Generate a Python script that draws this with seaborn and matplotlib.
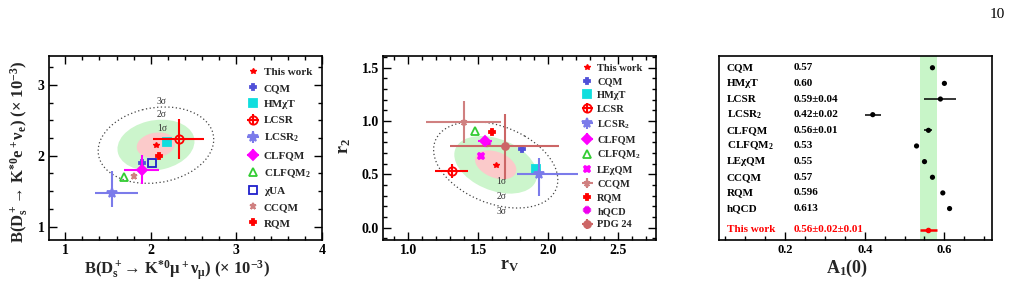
"""
Comparison of D_s+ -> K*0 l+ nu results with theory: branching fractions,
form-factor ratios and A1(0).
"""

import numpy as np
import matplotlib
matplotlib.use("Agg")
import matplotlib.pyplot as plt
from matplotlib.patches import Ellipse
from matplotlib.ticker import MultipleLocator, FormatStrFormatter
import seaborn as sns

sns.set_theme(style="ticks")
plt.rcParams['font.family'] = ['Liberation Serif', 'DejaVu Serif']
plt.rcParams['font.weight'] = 'bold'
plt.rcParams['axes.labelweight'] = 'bold'
plt.rcParams['mathtext.fontset'] = 'custom'
plt.rcParams['mathtext.rm'] = 'Liberation Serif:bold'
plt.rcParams['mathtext.it'] = 'Liberation Serif:bold'
plt.rcParams['mathtext.bf'] = 'Liberation Serif:bold'

# ============================================================================
# DATA
# ============================================================================
# panel 1: branching fractions (x 10^-3)
bf_this = (2.06, 2.15)
bf_sig = (0.225, 0.18, 0.15)          # sigma_mu, sigma_e, correlation
bf_models = ["CQM", "HMχT", "LCSR", "LCSR$_2$", "CLFQM", "CLFQM$_2$", "χUA", "CCQM", "RQM"]
bf_mu = [1.90, 2.19, 2.33, 1.55, 1.90, 1.69, 2.01, 1.80, 2.10]
bf_e = [1.90, 2.20, 2.24, 1.48, 1.80, 1.70, 1.90, 1.71, 2.00]
bf_mu_lo = [0, 0, 0.31, 0.20, 0.21, 0, 0, 0, 0]
bf_mu_hi = [0, 0, 0.29, 0.30, 0.20, 0, 0, 0, 0]
bf_e_lo = [0, 0, 0.29, 0.20, 0.20, 0, 0, 0, 0]
bf_e_hi = [0, 0, 0.28, 0.30, 0.21, 0, 0, 0, 0]

# panel 2: form-factor ratios
rr_this = (1.625, 0.59)
rr_sig = (0.148, 0.135, -0.35)
rr_models = ["CQM", "HMχT", "LCSR", "LCSR$_2$", "CLFQM", "CLFQM$_2$", "LEχQM",
             "CCQM", "RQM", "hQCD", "PDG 24"]
rv = [1.81, 1.91, 1.31, 1.935, 1.55, 1.48, 1.52, 1.395, 1.60, 1.56, 1.69]
r2 = [0.74, 0.55, 0.53, 0.50, 0.81, 0.91, 0.67, 0.99, 0.90, 0.79, 0.77]
rv_lo = [0, 0, 0.12, 0.16, 0.05, 0, 0, 0.27, 0, 0, 0.39]
rv_hi = [0, 0, 0.12, 0.28, 0.05, 0, 0, 0.27, 0, 0, 0.39]
r2_lo = [0, 0, 0.065, 0.20, 0.02, 0, 0, 0.20, 0, 0, 0.31]
r2_hi = [0, 0, 0.065, 0.15, 0.02, 0, 0, 0.20, 0, 0, 0.30]

# panel 3: A1(0)
a1_models = ["CQM", "HMχT", "LCSR", "LCSR$_2$", "CLFQM", "CLFQM$_2$", "LEχQM", "CCQM", "RQM", "hQCD"]
a1_vals = [0.57, 0.60, 0.59, 0.42, 0.56, 0.53, 0.55, 0.57, 0.596, 0.613]
a1_errs = [0, 0, 0.04, 0.02, 0.01, 0, 0, 0, 0, 0]
a1_text = ["0.57", "0.60", "0.59±0.04", "0.42±0.02", "0.56±0.01", "0.53", "0.55", "0.57", "0.596", "0.613"]
a1_this, a1_stat, a1_syst = 0.56, 0.02, 0.01

# ============================================================================
# STYLES
# ============================================================================
RED = '#ff0000'
styles = {
    "CQM":       dict(marker='P', color='#5050d8', ms=5, mfc='#5050d8'),
    "HMχT":      dict(marker='s', color='#10dede', ms=6, mfc='#10dede'),
    "LCSR":      dict(marker='o', color=RED, ms=6, mfc='none'),
    "LCSR$_2$":  dict(marker='*', color='#7b7bea', ms=7, mfc='#7b7bea'),
    "CLFQM":     dict(marker='D', color='#ff00ff', ms=5, mfc='#ff00ff'),
    "CLFQM$_2$": dict(marker='^', color='#33cc33', ms=6, mfc='none'),
    "χUA":       dict(marker='s', color='#2020cc', ms=6, mfc='none'),
    "CCQM":      dict(marker='*', color='#d08080', ms=5, mfc='#d08080'),
    "RQM":       dict(marker='P', color=RED, ms=5, mfc=RED),
    "LEχQM":     dict(marker='X', color='#ff00ff', ms=5, mfc='#ff00ff'),
    "hQCD":      dict(marker='X', color='#ee00ee', ms=4, mfc='#ee00ee'),
    "PDG 24":    dict(marker='o', color='#cc6666', ms=5, mfc='#cc6666'),
}


def cov_ellipse(ax, center, sig, k, **kw):
    sx, sy, rho = sig
    cov = np.array([[sx * sx, rho * sx * sy], [rho * sx * sy, sy * sy]])
    vals, vecs = np.linalg.eigh(cov)
    angle = np.degrees(np.arctan2(vecs[1, 1], vecs[0, 1]))
    e = Ellipse(center, 2 * k * np.sqrt(vals[1]), 2 * k * np.sqrt(vals[0]),
                angle=angle, **kw)
    ax.add_patch(e)


def draw_points(ax, names, xs, ys, xlo, xhi, ylo, yhi):
    handles = []
    for i, name in enumerate(names):
        st = styles[name]
        if xlo[i] + xhi[i] + ylo[i] + yhi[i] > 0:
            h = ax.errorbar(xs[i], ys[i], xerr=[[xlo[i]], [xhi[i]]], yerr=[[ylo[i]], [yhi[i]]],
                            fmt=st['marker'], color=st['color'], ms=st['ms'], mfc=st['mfc'],
                            mew=1.3, elinewidth=1.5, capsize=0, label=name, zorder=5)
        else:
            h, = ax.plot(xs[i], ys[i], ls='none', marker=st['marker'], color=st['color'],
                         ms=st['ms'], mfc=st['mfc'], mew=1.3, label=name, zorder=5)
        handles.append(h)
    return handles


def root_frame(ax, size=10):
    for s in ax.spines.values():
        s.set_linewidth(1.2)
        s.set_color('black')
    ax.tick_params(which='both', direction='in', top=True, right=True, colors='black',
                   labelsize=size, width=1.0)
    ax.tick_params(which='major', length=5.5, pad=3)
    ax.tick_params(which='minor', length=3)
    for lbl in ax.get_xticklabels() + ax.get_yticklabels():
        lbl.set_fontweight('bold')


fig, axes = plt.subplots(1, 3, figsize=(10.12, 3.04), dpi=100)
axes[0].set_position([0.0484, 0.2105, 0.2698, 0.6053])
axes[1].set_position([0.3785, 0.2105, 0.2697, 0.6053])
axes[2].set_position([0.7102, 0.2105, 0.2698, 0.6053])

LABEL_SIZE = 12

# ----------------------------------------------------------------------------
# Panel 1
# ----------------------------------------------------------------------------
ax = axes[0]
cov_ellipse(ax, bf_this, bf_sig, 3, fill=False, ls=(0, (1, 2)), lw=0.9, ec='#444444', zorder=1)
cov_ellipse(ax, bf_this, bf_sig, 2, fc='#ccf5cc', ec='none', zorder=1)
cov_ellipse(ax, bf_this, bf_sig, 1, fc='#fbcaca', ec='none', zorder=2)
for k, yy in zip(['1σ', '2σ', '3σ'], [2.39, 2.58, 2.77]):
    ax.text(2.13, yy, k, fontsize=7, fontweight='normal', color='#333333', ha='center', va='center')
h0, = ax.plot(*bf_this, ls='none', marker='*', color=RED, ms=4, label='This work', zorder=6)
hs = draw_points(ax, bf_models, bf_mu, bf_e, bf_mu_lo, bf_mu_hi, bf_e_lo, bf_e_hi)
ax.legend(handles=[h0] + hs, loc='upper left', bbox_to_anchor=(0.725, 0.94), frameon=False,
          fontsize=8, labelspacing=0.58, handlelength=1.1, handletextpad=0.4,
          borderpad=0, borderaxespad=0)
ax.set_xlim(0.81, 4.0)
ax.set_ylim(0.81, 3.41)
ax.xaxis.set_major_locator(MultipleLocator(1))
ax.xaxis.set_minor_locator(MultipleLocator(0.2))
ax.yaxis.set_major_locator(MultipleLocator(1))
ax.yaxis.set_minor_locator(MultipleLocator(0.25))
root_frame(ax)
ax.set_xlabel('B(D$_s^+$→ K$^{*0}$μ$^+$ν$_μ$) (× 10$^{-3}$)', fontsize=LABEL_SIZE)
ax.xaxis.set_label_coords(0.468, -0.098)
ax.set_ylabel('B(D$_s^+$→ K$^{*0}$e$^+$ν$_e$) (× 10$^{-3}$)', fontsize=LABEL_SIZE)
ax.yaxis.set_label_coords(-0.07, 0.478)

# ----------------------------------------------------------------------------
# Panel 2
# ----------------------------------------------------------------------------
ax = axes[1]
cov_ellipse(ax, rr_this, rr_sig, 3, fill=False, ls=(0, (1, 2)), lw=0.9, ec='#444444', zorder=1)
cov_ellipse(ax, rr_this, rr_sig, 2, fc='#ccf5cc', ec='none', zorder=1)
cov_ellipse(ax, rr_this, rr_sig, 1, fc='#fbcaca', ec='none', zorder=2)
for k, yy in zip(['1σ', '2σ', '3σ'], [0.43, 0.29, 0.15]):
    ax.text(1.667, yy, k, fontsize=7, fontweight='normal', color='#333333', ha='center', va='center')
h0, = ax.plot(*rr_this, ls='none', marker='*', color=RED, ms=4, label='This work', zorder=6)
hs = draw_points(ax, rr_models, rv, r2, rv_lo, rv_hi, r2_lo, r2_hi)
ax.legend(handles=[h0] + hs, loc='upper left', bbox_to_anchor=(0.728, 0.96), frameon=False,
          fontsize=7.5, labelspacing=0.42, handlelength=1.1, handletextpad=0.4,
          borderpad=0, borderaxespad=0)
ax.set_xlim(0.82, 2.77)
ax.set_ylim(-0.115, 1.61)
ax.xaxis.set_major_locator(MultipleLocator(0.5))
ax.xaxis.set_minor_locator(MultipleLocator(0.1))
ax.yaxis.set_major_locator(MultipleLocator(0.5))
ax.yaxis.set_minor_locator(MultipleLocator(0.1))
ax.xaxis.set_major_formatter(FormatStrFormatter('%.1f'))
ax.yaxis.set_major_formatter(FormatStrFormatter('%.1f'))
root_frame(ax)
ax.set_xlabel('r$_V$', fontsize=LABEL_SIZE + 1)
ax.xaxis.set_label_coords(0.465, -0.095)
ax.set_ylabel('r$_2$', fontsize=LABEL_SIZE + 1)
ax.yaxis.set_label_coords(-0.11, 0.51)

# ----------------------------------------------------------------------------
# Panel 3
# ----------------------------------------------------------------------------
ax = axes[2]
rows = np.arange(len(a1_models), 0, -1)
this_row = -0.37
a1_tot = np.hypot(a1_stat, a1_syst)
ax.axvspan(a1_this - a1_tot, a1_this + a1_tot, color='#c8f5c8', lw=0, zorder=0)
ax.errorbar(a1_vals, rows, xerr=a1_errs, fmt='none', ecolor='black', elinewidth=1.1, zorder=3)
sns.scatterplot(x=a1_vals, y=rows, ax=ax, color='black', s=14, edgecolor='none', zorder=4)
ax.errorbar([a1_this], [this_row], xerr=[a1_tot], fmt='o', color=RED, ms=3,
            elinewidth=1.8, zorder=4)
for name, txt, yy in zip(a1_models, a1_text, rows):
    ax.text(0.053, yy, name, fontsize=8, ha='left', va='center', color='black')
    ax.text(0.22, yy, txt, fontsize=8, ha='left', va='center', color='black')
ax.text(0.053, this_row, 'This work', fontsize=8, ha='left', va='center', color=RED)
ax.text(0.22, this_row, f'{a1_this:.2f}±{a1_stat:.2f}±{a1_syst:.2f}', fontsize=8,
        ha='left', va='center', color=RED)
ax.set_xlim(0.033, 0.719)
ax.set_ylim(-1.01, 10.75)
ax.set_yticks([])
ax.xaxis.set_major_locator(MultipleLocator(0.2))
ax.xaxis.set_minor_locator(MultipleLocator(0.05))
ax.xaxis.set_major_formatter(FormatStrFormatter('%.1f'))
root_frame(ax, size=9)
ax.tick_params(which='both', top=False, right=False, left=False)
ax.set_xlabel('A$_1$(0)', fontsize=LABEL_SIZE + 1)
ax.xaxis.set_label_coords(0.469, -0.095)

fig.text(1005 / 1012, 1 - 14 / 304, '10', fontsize=11, fontweight='normal',
         ha='right', va='center', color='black')

fig.savefig('out.png', dpi=100)
print("[OK] Saved figure to: out.png")
